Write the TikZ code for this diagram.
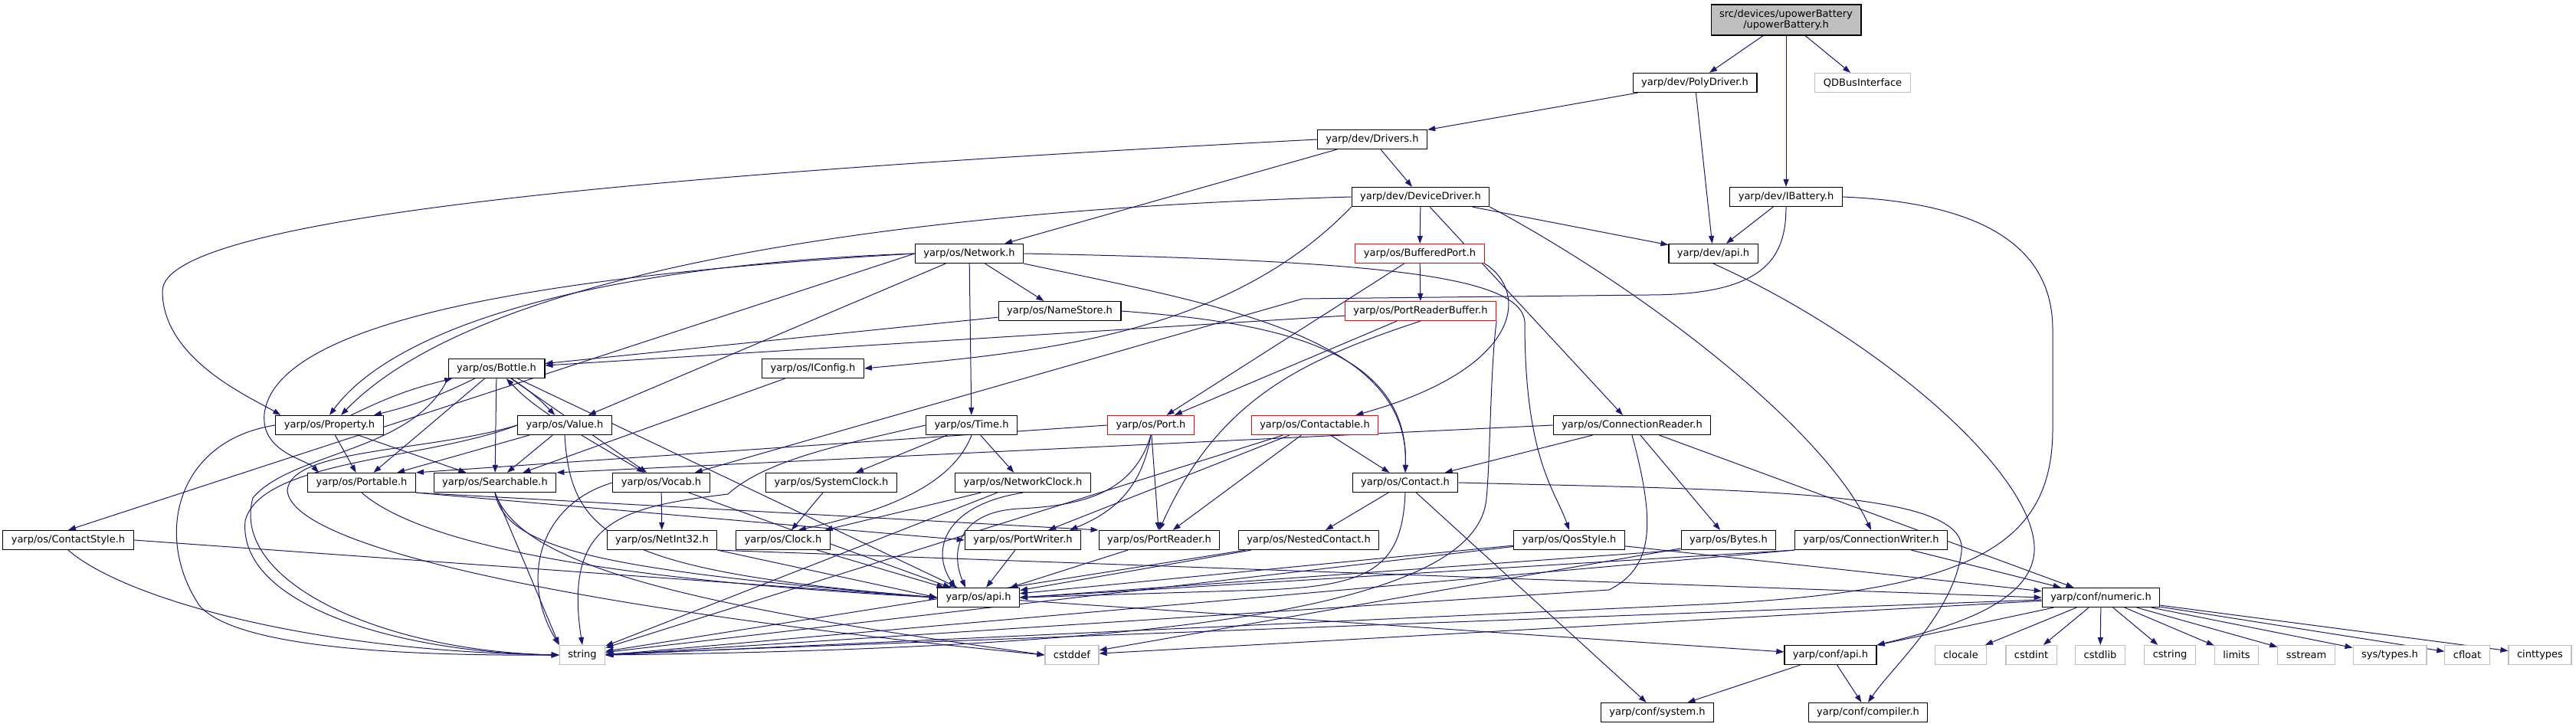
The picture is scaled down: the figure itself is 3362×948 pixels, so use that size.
\documentclass[tikz,border=0pt]{standalone}
\usepackage{fontspec}
\setmainfont{DejaVu Sans}
\usetikzlibrary{arrows.meta, backgrounds}
\definecolor{edgeblue}{HTML}{191970}
\definecolor{sysgray}{HTML}{BFBFBF}

\begin{document}
\begin{tikzpicture}[
    x=1pt, y=-1pt, >={Triangle[length=10pt,width=7pt]},
    hnode/.style={rectangle, draw=black, fill=white, line width=1.2pt, minimum height=25pt, inner xsep=11pt, inner ysep=0pt, font=\fontsize{13}{15}\selectfont},
    rnode/.style={hnode, draw=red},
    snode/.style={hnode, draw=sysgray},
    mnode/.style={hnode, fill=sysgray, minimum height=40pt, align=center, font=\fontsize{13}{14.5}\selectfont},
    dep/.style={->, draw=edgeblue, fill=none, line width=1pt},
  ]
  \useasboundingbox (0,0) rectangle (3362,948);

  \node[mnode] (upowerh)           at (2331,26)  {src/devices/upowerBattery\\/upowerBattery.h};
  \node[hnode] (polydriverh)       at (2212,108) {yarp/dev/PolyDriver.h};
  \node[snode] (qdbus)             at (2431,108) {QDBusInterface};
  \node[hnode] (driversh)          at (1791,182) {yarp/dev/Drivers.h};
  \node[hnode] (devicedriverh)     at (1854,257) {yarp/dev/DeviceDriver.h};
  \node[hnode] (ibatteryh)         at (2331,257) {yarp/dev/IBattery.h};
  \node[hnode] (networkh)          at (1265,331) {yarp/os/Network.h};
  \node[rnode] (bufferedporth)     at (1853,331) {yarp/os/BufferedPort.h};
  \node[hnode] (devapih)           at (2236,331) {yarp/dev/api.h};
  \node[hnode] (namestoreh)        at (1383,406) {yarp/os/NameStore.h};
  \node[rnode] (portreaderbufferh) at (1854,406) {yarp/os/PortReaderBuffer.h};
  \node[hnode] (bottleh)           at (648,481)  {yarp/os/Bottle.h};
  \node[hnode] (iconfigh)          at (1061,481) {yarp/os/IConfig.h};
  \node[hnode] (propertyh)         at (430,555)  {yarp/os/Property.h};
  \node[hnode] (valueh)            at (737,555)  {yarp/os/Value.h};
  \node[hnode] (timeh)             at (1268,555) {yarp/os/Time.h};
  \node[rnode] (porth)             at (1502,555) {yarp/os/Port.h};
  \node[rnode] (contactableh)      at (1716,555) {yarp/os/Contactable.h};
  \node[hnode] (connreaderh)       at (2130,555) {yarp/os/ConnectionReader.h};
  \node[hnode] (portableh)         at (472,630)  {yarp/os/Portable.h};
  \node[hnode] (searchableh)       at (646,630)  {yarp/os/Searchable.h};
  \node[hnode] (vocabh)            at (863,630)  {yarp/os/Vocab.h};
  \node[hnode] (sysclockh)         at (1085,630) {yarp/os/SystemClock.h};
  \node[hnode] (netclockh)         at (1335,630) {yarp/os/NetworkClock.h};
  \node[hnode] (contacth)          at (1834,630) {yarp/os/Contact.h};
  \node[hnode] (contactstyleh)     at (89,705)   {yarp/os/ContactStyle.h};
  \node[hnode] (netint32h)         at (864,705)  {yarp/os/NetInt32.h};
  \node[hnode] (clockh)            at (1022,705) {yarp/os/Clock.h};
  \node[hnode] (portwriterh)       at (1335,705) {yarp/os/PortWriter.h};
  \node[hnode] (portreaderh)       at (1513,705) {yarp/os/PortReader.h};
  \node[hnode] (nestedh)           at (1708,705) {yarp/os/NestedContact.h};
  \node[hnode] (qosh)              at (2048,705) {yarp/os/QosStyle.h};
  \node[hnode] (bytesh)            at (2256,705) {yarp/os/Bytes.h};
  \node[hnode] (connwriterh)       at (2442,705) {yarp/os/ConnectionWriter.h};
  \node[hnode] (osapih)            at (1277,780) {yarp/os/api.h};
  \node[hnode] (numerich)          at (2742,780) {yarp/conf/numeric.h};
  \node[snode] (string)            at (760,855)  {string};
  \node[snode] (cstddef)           at (1399,855) {cstddef};
  \node[hnode] (confapih)          at (2389,855) {yarp/conf/api.h};
  \node[snode] (clocale)           at (2559,855) {clocale};
  \node[snode] (cstdint)           at (2651,855) {cstdint};
  \node[snode] (cstdlib)           at (2741,855) {cstdlib};
  \node[snode] (cstring)           at (2832,855) {cstring};
  \node[snode] (limits)            at (2919,855) {limits};
  \node[snode] (sstream)           at (3010,855) {sstream};
  \node[snode] (systypesh)         at (3119,855) {sys/types.h};
  \node[snode] (cfloat)            at (3220,855) {cfloat};
  \node[snode] (cinttypes)         at (3315,855) {cinttypes};
  \node[hnode] (systemh)           at (2163,930) {yarp/conf/system.h};
  \node[hnode] (compilerh)         at (2438,930) {yarp/conf/compiler.h};

  \begin{pgfonlayer}{background}
  \foreach \a/\b in {upowerh/polydriverh, upowerh/ibatteryh, upowerh/qdbus,
      polydriverh/driversh, polydriverh/devapih,
      driversh/networkh, driversh/devicedriverh,
      ibatteryh/devapih,
      devicedriverh/bufferedporth, devicedriverh/devapih, devicedriverh/connreaderh,
      networkh/valueh, networkh/timeh, networkh/namestoreh,
      bufferedporth/portreaderbufferh, bufferedporth/porth,
      namestoreh/bottleh,
      portreaderbufferh/bottleh, portreaderbufferh/porth,
      bottleh/portableh, bottleh/searchableh, bottleh/vocabh, bottleh/osapih,
      iconfigh/searchableh,
      propertyh/portableh, propertyh/searchableh,
      valueh/portableh, valueh/searchableh, valueh/vocabh,
      timeh/sysclockh, timeh/netclockh,
      porth/portreaderh,
      contactableh/portwriterh, contactableh/portreaderh, contactableh/contacth,
      contactableh/string,
      connreaderh/contacth, connreaderh/bytesh, connreaderh/numerich,
      vocabh/netint32h, vocabh/osapih,
      sysclockh/clockh, netclockh/clockh, netclockh/string,
      contacth/nestedh, contacth/systemh,
      clockh/osapih, portwriterh/osapih, portreaderh/osapih,
      nestedh/osapih, nestedh/string,
      qosh/osapih, qosh/numerich, qosh/string,
      bytesh/cstddef,
      connwriterh/numerich,
      osapih/confapih,
      numerich/confapih, numerich/string, numerich/cstddef,
      numerich/clocale, numerich/cstdint, numerich/cstdlib, numerich/cstring, numerich/limits,
      numerich/sstream, numerich/systypesh, numerich/cfloat, numerich/cinttypes,
      confapih/systemh, confapih/compilerh}
    \draw[dep] (\a) -- (\b);

  % includes that go both ways
  \draw[dep] (propertyh) to[bend left=6] (bottleh);
  \draw[dep] (bottleh) to[bend left=6] (propertyh);
  \draw[dep] (valueh) to[bend left=6] (bottleh);
  \draw[dep] (bottleh) to[bend left=6] (valueh);

  % straight, but from a corner
  \draw[dep] (networkh.west) -- (contactstyleh.north);
  \draw[dep] (connreaderh.west) -- (searchableh.north east);
  \draw[dep] (porth.west) -- (portableh.north east);
  \draw[dep] (portableh.south east) -- (portwriterh.west);
  \draw[dep] (portableh.south east) -- (portreaderh.north west);
  \draw[dep] (contactstyleh.east) -- (osapih.west);
  \draw[dep] (contactstyleh.south) .. controls (160,780) and (400,850) .. (string.west);
  \draw[dep] (netint32h.south east) -- (osapih.west);
  \draw[dep] (netint32h.south east) -- (numerich.west);
  \draw[dep] (bytesh.south west) -- (osapih.east);
  \draw[dep] (connwriterh.south west) -- (osapih.east);
  \draw[dep] (connwriterh.south west) -- (string.east);
  \draw[dep] (searchableh.south) -- (string.north west);

  % long detours
  \draw[dep] (driversh.west) .. controls (900,225) and (212,280) .. (212,380)
    .. controls (212,470) and (330,520) .. ([xshift=7pt]propertyh.north west);
  \draw[dep] (ibatteryh.east) .. controls (2600,265) and (2679,330) .. (2679,430) -- (2679,560)
    .. controls (2679,720) and (2560,775) .. (2200,790) -- (string.east);
  \draw[dep] (ibatteryh.south) .. controls (2331,340) and (2300,385) .. (2150,385)
    -- (1700,390) -- ([xshift=-20pt]vocabh.north east);
  \draw[dep] (devicedriverh.west) .. controls (1300,270) and (650,330) .. ([xshift=15pt]propertyh.north);
  \draw[dep] (devicedriverh.south west) .. controls (1600,440) and (1350,460) .. (iconfigh.east);
  \draw[dep] (devicedriverh.south east) .. controls (2150,380) and (2380,560) .. (connwriterh.north);
  \draw[dep] (devapih.south) .. controls (2450,440) and (2660,620) .. (2655,720)
    .. controls (2650,790) and (2540,820) .. (confapih.north east);
  \draw[dep] (networkh.west) .. controls (800,345) and (520,420) .. (propertyh.north);
  \draw[dep] (networkh.west) .. controls (700,360) and (360,420) .. (345,540)
    .. controls (340,590) and (400,600) .. ([xshift=15pt]portableh.north west);
  \draw[dep] (networkh.south east) .. controls (1600,400) and (1840,440) .. (contacth.north);
  \draw[dep] (networkh.east) .. controls (1800,340) and (1985,360) .. (1990,420)
    .. controls (1990,600) and (2030,640) .. (qosh.north);
  \draw[dep] (namestoreh.east) .. controls (1650,420) and (1840,450) .. (contacth.north);
  \draw[dep] (bufferedporth.south east) .. controls (1995,380) and (1990,480) .. ([xshift=-30pt]contactableh.north east);
  \draw[dep] (portreaderbufferh.south) .. controls (1700,470) and (1590,520) .. (portreaderh.north);
  \draw[dep] (portreaderbufferh.south east) .. controls (1945,480) and (1945,600) .. (1940,650)
    .. controls (1930,780) and (1600,845) .. (string.east);
  \draw[dep] (bottleh.south west) .. controls (540,590) and (380,590) .. (330,650)
    .. controls (300,760) and (500,850) .. (string.west);
  \draw[dep] (valueh.west) .. controls (560,600) and (340,600) .. (320,680)
    .. controls (310,790) and (520,852) .. (string.west);
  \draw[dep] (valueh.west) .. controls (560,590) and (380,585) .. (375,640)
    .. controls (380,720) and (800,800) .. (cstddef.west);
  \draw[dep] (propertyh.west) .. controls (230,575) and (200,700) .. (260,790)
    .. controls (310,850) and (560,856) .. (string.west);
  \draw[dep] (valueh.south) .. controls (745,700) and (800,745) .. (osapih.west);
  \draw[dep] (vocabh.west) .. controls (700,660) and (680,760) .. (string.north west);
  \draw[dep] (timeh.west) .. controls (1100,580) and (1000,600) .. (950,645)
    .. controls (810,662) and (735,680) .. (string.north);
  \draw[dep] (timeh.south) .. controls (1240,640) and (1140,670) .. ([xshift=20pt]clockh.north);
  \draw[dep] (searchableh.south) .. controls (660,720) and (800,745) .. (osapih.west);
  \draw[dep] (searchableh.south) .. controls (680,740) and (900,790) .. (cstddef.west);
  \draw[dep] (portableh.south) .. controls (560,720) and (850,760) .. (osapih.west);
  \draw[dep] (netclockh.south) .. controls (1230,660) and (1215,720) .. ([xshift=-30pt]osapih.north);
  \draw[dep] (porth.south) .. controls (1480,640) and (1420,660) .. (1330,664)
    .. controls (1250,668) and (1240,720) .. ([xshift=-17pt]osapih.north);
  \draw[dep] (porth.south) .. controls (1490,640) and (1450,670) .. ([xshift=-15pt]portwriterh.north east);
  \draw[dep] (contacth.south) .. controls (1830,740) and (1790,765) .. (1650,770) -- (osapih.east);
  \draw[dep] (contacth.east) .. controls (2300,640) and (2570,640) .. (2560,720)
    .. controls (2550,800) and (2470,870) .. (compilerh.north);
  \draw[dep] (connreaderh.south) .. controls (2160,680) and (2160,740) .. (2100,770) -- (string.east);
  \end{pgfonlayer}
\end{tikzpicture}
\end{document}
